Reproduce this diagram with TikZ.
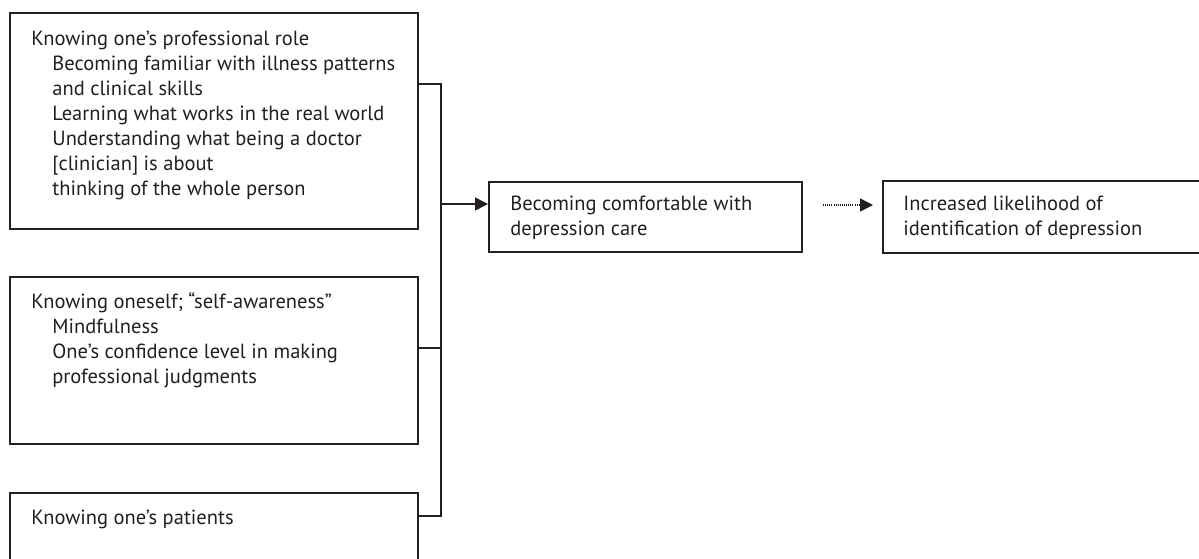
\documentclass[tikz,border=0pt]{standalone}
\usepackage{fontspec}
\setmainfont{PT Sans}
\usetikzlibrary{arrows.meta,positioning,calc}
\definecolor{FigInk}{HTML}{231F20}
\newcommand{\sublevel}{\hspace*{10.5pt}}

\begin{document}
\begin{tikzpicture}[x=0.5pt, y=-0.5pt,
  box/.style={draw=FigInk, line width=0.8pt, anchor=north west,
              inner sep=0pt},
  txt/.style={anchor=base west, inner sep=0pt, align=left, text=FigInk,
              font=\fontsize{10.25}{12.5}\selectfont},
  link/.style={draw=FigInk, line width=0.8pt},
  arr/.style={link, -{Triangle[length=6.5pt, width=6.5pt]}},
  dotarr/.style={draw=FigInk, line width=0.75pt,
                 dash pattern=on 0.5pt off 0.55pt,
                 -{Triangle[length=6.5pt, width=6.5pt]}}
]
\useasboundingbox (0,0) rectangle (1199,558);

% Left column of themes (text nodes sit on their last baseline)
\node[box, minimum width=204pt, minimum height=108pt] (role) at (9,12) {};
\node[txt] (roletxt) at (31,195) {Knowing one’s professional role\\
  \sublevel Becoming familiar with illness patterns\\
  \sublevel and clinical skills\\
  \sublevel Learning what works in the real world\\
  \sublevel Understanding what being a doctor\\
  \sublevel [clinician] is about\\
  \sublevel thinking of the whole person};

\node[box, minimum width=204pt, minimum height=83.5pt] (self) at (9,276) {};
\node[txt] (selftxt) at (31,383) {Knowing oneself; “self-awareness”\\
  \sublevel Mindfulness\\
  \sublevel One’s confidence level in making\\
  \sublevel professional judgments};

\node[box, minimum width=204pt, minimum height=40pt] (patients) at (9,492) {};
\node[txt] (patientstxt) at (31,524) {Knowing one’s patients};

% Outcome boxes
\node[box, minimum width=156.5pt, minimum height=35pt] (comfort) at (488,181) {};
\node[txt] (comforttxt) at (510,235.5) {Becoming comfortable with\\
  depression care};

\node[box, minimum width=162pt, minimum height=36pt] (identify) at (882,180) {};
\node[txt] (identifytxt) at (903,235.5) {Increased likelihood of\\
  identification of depression};

% Bracket joining the themes
\coordinate (j1) at (441,84);
\coordinate (j2) at (441,348);
\coordinate (j3) at (441,516);
\coordinate (jmid) at (441,204);
\draw[link] (role.east |- j1) -- (j1) -- (j3) -- (patients.east |- j3);
\draw[link] (self.east |- j2) -- (j2);
\draw[arr] (jmid) -- (comfort.west |- jmid);

% Dotted link
\coordinate (dstart) at (823,205);
\coordinate (dend) at (873,205);
\draw[dotarr] (dstart) -- (dend);

\end{tikzpicture}
\end{document}
